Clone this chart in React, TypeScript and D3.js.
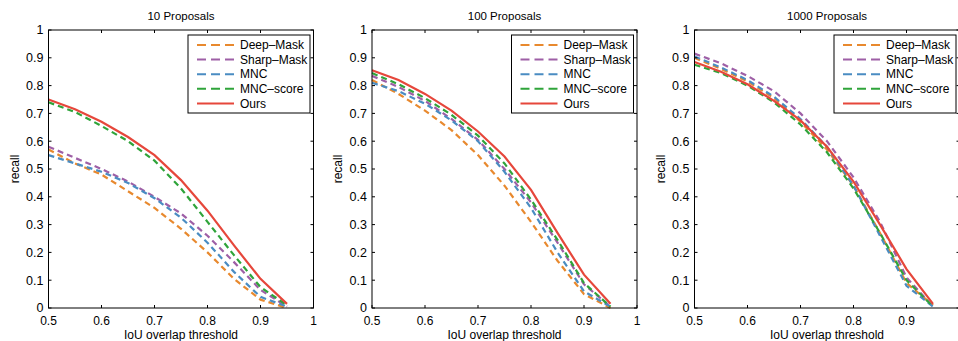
import React, { useRef, useEffect } from 'react';
import * as d3 from 'd3';

// IoU thresholds on the x axis
const thresholds = [0.5, 0.55, 0.6, 0.65, 0.7, 0.75, 0.8, 0.85, 0.9, 0.95];
const methods = ['Deep–Mask', 'Sharp–Mask', 'MNC', 'MNC–score', 'Ours'];
const colors = ['#e8892e', '#9e5fa6', '#4a8cc2', '#2fa43a', '#e6473b'];
const panelTitles = ['10 Proposals', '100 Proposals', '1000 Proposals'];

// recall per method (same order as methods), one list per panel
const recall10 = [
  [0.57, 0.52, 0.48, 0.42, 0.36, 0.285, 0.2, 0.105, 0.03, 0.0],
  [0.58, 0.54, 0.5, 0.455, 0.4, 0.34, 0.26, 0.165, 0.065, 0.005],
  [0.55, 0.52, 0.49, 0.45, 0.395, 0.325, 0.235, 0.13, 0.04, 0.005],
  [0.74, 0.705, 0.655, 0.6, 0.53, 0.43, 0.31, 0.19, 0.075, 0.01],
  [0.75, 0.715, 0.67, 0.615, 0.55, 0.46, 0.35, 0.225, 0.105, 0.015],
];
const recall100 = [
  [0.82, 0.77, 0.71, 0.64, 0.55, 0.44, 0.31, 0.17, 0.05, 0.0],
  [0.835, 0.795, 0.745, 0.68, 0.605, 0.5, 0.38, 0.235, 0.085, 0.005],
  [0.81, 0.78, 0.735, 0.675, 0.6, 0.49, 0.36, 0.2, 0.06, 0.005],
  [0.845, 0.805, 0.755, 0.695, 0.62, 0.52, 0.39, 0.245, 0.09, 0.005],
  [0.855, 0.82, 0.77, 0.71, 0.635, 0.545, 0.425, 0.27, 0.12, 0.015],
];
const recall1000 = [
  [0.9, 0.86, 0.815, 0.755, 0.67, 0.57, 0.44, 0.27, 0.09, 0.01],
  [0.915, 0.88, 0.835, 0.78, 0.7, 0.6, 0.47, 0.31, 0.11, 0.005],
  [0.905, 0.865, 0.82, 0.76, 0.68, 0.58, 0.44, 0.26, 0.08, 0.005],
  [0.875, 0.845, 0.8, 0.74, 0.66, 0.56, 0.43, 0.27, 0.1, 0.005],
  [0.885, 0.85, 0.805, 0.745, 0.675, 0.58, 0.455, 0.3, 0.14, 0.015],
];
const panelData = [recall10, recall100, recall1000];

const xTicks = [0.5, 0.6, 0.7, 0.8, 0.9, 1];
const yTicks = [0, 0.1, 0.2, 0.3, 0.4, 0.5, 0.6, 0.7, 0.8, 0.9, 1];

const width = 958;
const height = 341;
const panelLeft = [48.5, 372, 694.5];
const plotWidth = 265;
const plotTop = 30;
const plotBottom = 308;
const font = 'Liberation Sans, Arial, Helvetica, sans-serif';

const fmt = (d: number) => (d === 0 || d === 1 ? String(d) : d.toFixed(1));

export default function App() {
  const svgRef = useRef<SVGSVGElement>(null);

  useEffect(() => {
    const svg = d3.select(svgRef.current);
    svg.selectAll('*').remove();

    panelData.forEach((series, p) => {
      const left = panelLeft[p];
      const x = d3.scaleLinear().domain([0.5, 1]).range([left, left + plotWidth]);
      const y = d3.scaleLinear().domain([0, 1]).range([plotBottom, plotTop]);
      const g = svg.append('g').attr('font-family', font);

      // title
      g.append('text')
        .attr('x', x(0.75))
        .attr('y', 19.5)
        .attr('text-anchor', 'middle')
        .attr('font-size', 11.5)
        .text(panelTitles[p]);

      // curves
      const line = d3.line<number>()
        .x((_, i) => x(thresholds[i]))
        .y(d => y(d));
      series.forEach((vals, m) => {
        g.append('path')
          .attr('d', line(vals))
          .attr('fill', 'none')
          .attr('stroke', colors[m])
          .attr('stroke-width', 2.2)
          .attr('stroke-dasharray', m === 4 ? null : '6,4');
      });

      // box
      g.append('rect')
        .attr('x', x(0.5))
        .attr('y', y(1))
        .attr('width', x(1) - x(0.5))
        .attr('height', y(0) - y(1))
        .attr('fill', 'none')
        .attr('stroke', '#000')
        .attr('stroke-width', 1);

      // x ticks (inward, bottom and top)
      xTicks.forEach(t => {
        g.append('line').attr('x1', x(t)).attr('x2', x(t)).attr('y1', y(0)).attr('y2', y(0) - 3).attr('stroke', '#000');
        g.append('line').attr('x1', x(t)).attr('x2', x(t)).attr('y1', y(1)).attr('y2', y(1) + 3).attr('stroke', '#000');
        if (x(t) > width - 4) return; // outside the picture
        g.append('text')
          .attr('x', x(t))
          .attr('y', 325)
          .attr('text-anchor', 'middle')
          .attr('font-size', 12)
          .text(fmt(t));
      });

      // y ticks
      yTicks.forEach(t => {
        g.append('line').attr('x1', x(0.5)).attr('x2', x(0.5) + 3).attr('y1', y(t)).attr('y2', y(t)).attr('stroke', '#000');
        g.append('line').attr('x1', x(1)).attr('x2', x(1) - 3).attr('y1', y(t)).attr('y2', y(t)).attr('stroke', '#000');
        g.append('text')
          .attr('x', x(0.5) - 5)
          .attr('y', y(t))
          .attr('dy', '0.35em')
          .attr('text-anchor', 'end')
          .attr('font-size', 12.5)
          .text(fmt(t));
      });

      // axis labels
      g.append('text')
        .attr('x', x(0.75))
        .attr('y', 338.5)
        .attr('text-anchor', 'middle')
        .attr('font-size', 12)
        .text('IoU overlap threshold');
      g.append('text')
        .attr('transform', `translate(${x(0.5) - 30},${y(0.5)}) rotate(-90)`)
        .attr('text-anchor', 'middle')
        .attr('font-size', 12)
        .text('recall');

      // legend
      const lw = 122;
      const lh = 78;
      const lx = x(1) - 3.5 - lw;
      const ly = 35;
      const leg = g.append('g');
      leg.append('rect')
        .attr('x', lx)
        .attr('y', ly)
        .attr('width', lw)
        .attr('height', lh)
        .attr('fill', '#fff')
        .attr('stroke', '#000')
        .attr('stroke-width', 1);
      methods.forEach((name, m) => {
        const ry = ly + 10 + m * 14.6;
        leg.append('line')
          .attr('x1', lx + 9)
          .attr('x2', lx + 46)
          .attr('y1', ry)
          .attr('y2', ry)
          .attr('stroke', colors[m])
          .attr('stroke-width', 2)
          .attr('stroke-dasharray', m === 4 ? null : '9,5');
        leg.append('text')
          .attr('x', lx + 52)
          .attr('y', ry)
          .attr('dy', '0.35em')
          .attr('font-size', 12)
          .text(name);
      });
    });
  }, []);

  return (
    <svg
      ref={svgRef}
      width={width}
      height={height}
      style={{ position: 'absolute', left: 0, top: 0, background: '#fff' }}
    />
  );
}
